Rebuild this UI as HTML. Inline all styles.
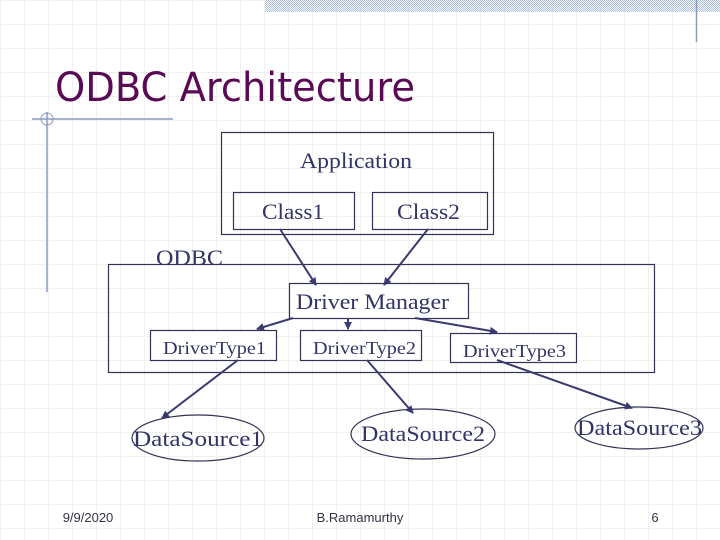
<!DOCTYPE html>
<html><head><meta charset="utf-8"><style>
html,body{margin:0;padding:0;background:#fff;}
svg{display:block;}
.s{font-family:"Liberation Serif","Times New Roman",serif;fill:#333366;}
</style></head><body>
<svg width="720" height="540" xmlns="http://www.w3.org/2000/svg">
<defs>
<pattern id="g" width="24" height="24" patternUnits="userSpaceOnUse">
<path d="M0 0H24M0 0V24" stroke="#c4c4c4" stroke-width="1" stroke-dasharray="1,1" fill="none"/>
</pattern>
<pattern id="c" width="2" height="2" patternUnits="userSpaceOnUse">
<rect width="1" height="1" fill="#aabbe0"/><rect x="1" y="1" width="1" height="1" fill="#aabbe0"/>
</pattern>
<marker id="a" markerWidth="8" markerHeight="8" refX="7" refY="4" orient="auto" markerUnits="userSpaceOnUse">
<path d="M0 0L8 4L0 8z" fill="#3a3a70"/>
</marker>
</defs>
<rect width="720" height="540" fill="url(#g)" transform="translate(0.5,0.5)"/>
<rect x="265" y="0" width="455" height="12" fill="url(#c)"/>
<line x1="696.5" y1="0" x2="696.5" y2="42" stroke="#8899c0" stroke-width="1.5"/>
<line x1="47" y1="112" x2="47" y2="292" stroke="#8899c0" stroke-width="1.5"/>
<line x1="32" y1="119" x2="173" y2="119" stroke="#8899c0" stroke-width="1.5"/>
<circle cx="47" cy="119" r="6" fill="none" stroke="#8899c0" stroke-width="1"/>
<text x="55" y="101" font-family="DejaVu Sans, sans-serif" font-size="40" fill="#5a0a55" textLength="360" lengthAdjust="spacingAndGlyphs">ODBC Architecture</text>
<g fill="none" stroke="#333355" stroke-width="1.2">
<rect x="221.5" y="132.5" width="272" height="102"/>
<rect x="233.5" y="192.5" width="121" height="37"/>
<rect x="372.5" y="192.5" width="115" height="37"/>
<rect x="108.5" y="264.5" width="546" height="108"/>
<rect x="289.5" y="283.5" width="179" height="35" fill="#fff"/>
<rect x="150.5" y="330.5" width="126" height="30" fill="#fff"/>
<rect x="300.5" y="330.5" width="121" height="30" fill="#fff"/>
<rect x="450.5" y="333.5" width="126" height="29" fill="#fff"/>
<ellipse cx="198" cy="438" rx="66" ry="23"/>
<ellipse cx="423" cy="434" rx="72" ry="25"/>
<ellipse cx="639" cy="428" rx="64" ry="21"/>
</g>
<g stroke="#3a3a70" stroke-width="2" marker-end="url(#a)">
<line x1="280" y1="229" x2="316" y2="285"/>
<line x1="428" y1="229" x2="384" y2="285"/>
<line x1="293" y1="318" x2="257" y2="329"/>
<line x1="348" y1="318" x2="348" y2="329"/>
<line x1="415" y1="318" x2="497" y2="332"/>
<line x1="238" y1="360" x2="162" y2="418"/>
<line x1="367" y1="360" x2="413" y2="413"/>
<line x1="497" y1="360" x2="632" y2="408"/>
</g>
<g class="s">
<text x="300" y="168" font-size="22" textLength="112" lengthAdjust="spacingAndGlyphs">Application</text>
<text x="262" y="219" font-size="22" textLength="62" lengthAdjust="spacingAndGlyphs">Class1</text>
<text x="397" y="219" font-size="22" textLength="63" lengthAdjust="spacingAndGlyphs">Class2</text>
<text x="156" y="265" font-size="22" textLength="67" lengthAdjust="spacingAndGlyphs">ODBC</text>
<text x="296" y="309" font-size="22" textLength="153" lengthAdjust="spacingAndGlyphs">Driver Manager</text>
<text x="163" y="354" font-size="18" textLength="103" lengthAdjust="spacingAndGlyphs">DriverType1</text>
<text x="313" y="354" font-size="18" textLength="103" lengthAdjust="spacingAndGlyphs">DriverType2</text>
<text x="463" y="357" font-size="18" textLength="103" lengthAdjust="spacingAndGlyphs">DriverType3</text>
<text x="133" y="446" font-size="22" textLength="130" lengthAdjust="spacingAndGlyphs">DataSource1</text>
<text x="361" y="441" font-size="22" textLength="124" lengthAdjust="spacingAndGlyphs">DataSource2</text>
<text x="577" y="435" font-size="22" textLength="125" lengthAdjust="spacingAndGlyphs">DataSource3</text>
</g>
<g font-family="Liberation Sans, sans-serif" font-size="13" fill="#333344">
<text x="88" y="522" text-anchor="middle">9/9/2020</text>
<text x="360" y="522" text-anchor="middle">B.Ramamurthy</text>
<text x="655" y="522" text-anchor="middle">6</text>
</g>
</svg>
</body></html>
